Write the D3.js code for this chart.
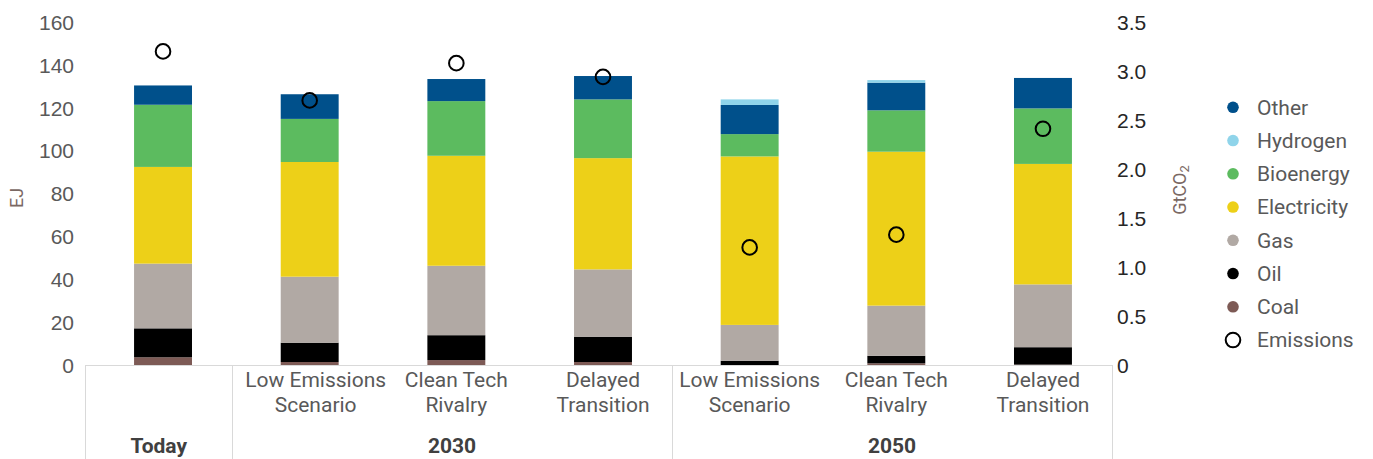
<!DOCTYPE html>
<html><head><meta charset="utf-8">
<script src="https://cdn.jsdelivr.net/npm/d3@7"></script>
<style>
body{margin:0;background:#fff;}
svg{font-family:Roboto, "Liberation Sans", sans-serif;}
</style></head>
<body><svg id="c" width="1373" height="459"></svg>
<script>
const categories = ["Today","Low Emissions|Scenario","Clean Tech|Rivalry","Delayed|Transition","Low Emissions|Scenario","Clean Tech|Rivalry","Delayed|Transition"];
const groups = [{name:"Today",from:0,to:0},{name:"2030",from:1,to:3},{name:"2050",from:4,to:6}];
const seriesNames = ["Coal","Oil","Gas","Electricity","Bioenergy","Other","Hydrogen"];
const coal        = [3.6, 1.4, 2.3, 1.4, 0.0, 0.8, 0.2];
const oil         = [13.5, 9.0, 11.6, 11.8, 2.0, 3.5, 8.1];
const gas         = [30.2, 30.8, 32.4, 31.4, 16.7, 23.4, 29.3];
const electricity = [45.1, 53.5, 51.3, 51.9, 78.6, 71.8, 56.2];
const bioenergy   = [29.0, 20.1, 25.5, 27.4, 10.4, 19.3, 25.9];
const other       = [9.0, 11.5, 10.3, 10.9, 13.6, 12.9, 14.2];
const hydrogen    = [0.0, 0.0, 0.0, 0.0, 2.6, 1.2, 0.0];
const emissions   = [3.20, 2.70, 3.08, 2.94, 1.20, 1.33, 2.41];
const leftTicks = [0,20,40,60,80,100,120,140,160];
const rightTicks = [0,0.5,1.0,1.5,2.0,2.5,3.0,3.5];
const legendOrder = ["Other","Hydrogen","Bioenergy","Electricity","Gas","Oil","Coal"];

const colors = {Coal:"#7d5a55",Oil:"#000000",Gas:"#b1a9a4",Electricity:"#edd018",Bioenergy:"#5cbb5f",Other:"#00508b",Hydrogen:"#8fd4ea"};
const seriesData = {Coal:coal,Oil:oil,Gas:gas,Electricity:electricity,Bioenergy:bioenergy,Other:other,Hydrogen:hydrogen};

const svg = d3.select("#c");
const plotTop = 22, plotBottom = 365;
const FS = "21px";
const x = d3.scaleBand().domain(d3.range(categories.length)).range([89.7,1116.3]).paddingInner(0.605).paddingOuter(0.3025);
const y = d3.scaleLinear().domain([0,160]).range([plotBottom,plotTop]);
const y2 = d3.scaleLinear().domain([0,3.5]).range([plotBottom,plotTop]);
const step = x.step();
const sepOffset = -4.3;
const bandLeft = i => x(i) - x.paddingInner()*step/2 + sepOffset;

const table = categories.map((c,i)=>{const o={i}; seriesNames.forEach(s=>o[s]=seriesData[s][i]); return o;});
const stack = d3.stack().keys(seriesNames)(table);

// bars
svg.append("g").selectAll("g").data(stack).join("g").attr("fill",d=>colors[d.key])
  .selectAll("rect").data(d=>d).join("rect")
  .attr("x",d=>x(d.data.i)).attr("width",x.bandwidth())
  .attr("y",d=>y(d[1])).attr("height",d=>Math.max(0,y(d[0])-y(d[1])));

// axis baseline and separators
const axisCol = "#d9d9d9";
const xLeft = bandLeft(0), xRight = bandLeft(categories.length-1)+step;
svg.append("line").attr("x1",xLeft).attr("x2",xRight).attr("y1",plotBottom+0.5).attr("y2",plotBottom+0.5).attr("stroke",axisCol);
const seps = [0,1,4].map(bandLeft).concat([xRight]);
svg.append("g").selectAll("line").data(seps).join("line")
  .attr("x1",d=>Math.round(d)+0.5).attr("x2",d=>Math.round(d)+0.5).attr("y1",plotBottom).attr("y2",459).attr("stroke",axisCol);

// left axis
const la = svg.append("g").attr("transform",`translate(74,0)`)
  .call(d3.axisLeft(y).tickValues(leftTicks).tickSize(0).tickPadding(0).tickFormat(d3.format("d")));
la.select(".domain").remove();
la.selectAll("text").attr("fill","#595959").style("font-size",FS).attr("dy","0.35em");

// right axis
const ra = svg.append("g").attr("transform",`translate(1117,0)`)
  .call(d3.axisRight(y2).tickValues(rightTicks).tickSize(0).tickPadding(0).tickFormat(d=>d===0?"0":d3.format(".1f")(d)));
ra.select(".domain").remove();
ra.selectAll("text").attr("fill","#262626").style("font-size",FS).attr("dy","0.35em");

// axis titles
svg.append("text").attr("transform","translate(17,198) rotate(-90)").attr("text-anchor","middle").attr("dy","0.35em")
  .attr("fill","#7a6863").style("font-size","18px").text("EJ");
const gt = svg.append("text").attr("transform","translate(1180,190) rotate(-90)").attr("text-anchor","middle").attr("dy","0.35em")
  .attr("fill","#7a6863").style("font-size","18px");
gt.append("tspan").text("GtCO");
gt.append("tspan").style("font-size","13px").attr("dy","3").text("2");

// category labels
const cl = svg.append("g").selectAll("text").data(categories.map((c,i)=>({c,i})).filter(d=>d.i>0)).join("text")
  .attr("text-anchor","middle").attr("fill","#595959").style("font-size",FS);
cl.each(function(d){
  const t=d3.select(this); const parts=d.c.split("|");
  parts.forEach((p,k)=>t.append("tspan").attr("x",x(d.i)+x.bandwidth()/2+ (d.i===1?6:0)).attr("y",387+k*25).text(p));
});

// group labels
svg.append("g").selectAll("text").data(groups).join("text")
  .attr("x",g=>(bandLeft(g.from)+bandLeft(g.to)+step)/2).attr("y",453)
  .attr("text-anchor","middle").attr("fill","#404040").style("font-size",FS).style("font-weight","bold").text(g=>g.name);

// emissions
svg.append("g").selectAll("circle").data(emissions).join("circle")
  .attr("cx",(d,i)=>x(i)+x.bandwidth()/2).attr("cy",d=>y2(d)).attr("r",7.3)
  .attr("fill","none").attr("stroke","#000").attr("stroke-width",2);

// legend
const lg = svg.append("g");
const items = legendOrder.concat(["Emissions"]);
const ly = i => 107.3 + i*33.25;
items.forEach((name,i)=>{
  if(name==="Emissions"){
    lg.append("circle").attr("cx",1233).attr("cy",ly(i)).attr("r",7.3).attr("fill","none").attr("stroke","#000").attr("stroke-width",2);
  } else {
    lg.append("circle").attr("cx",1233).attr("cy",ly(i)).attr("r",5.8).attr("fill",colors[name]);
  }
  lg.append("text").attr("x",1257).attr("y",ly(i)).attr("dy","0.35em").attr("fill","#595959").style("font-size",FS).text(name);
});
</script></body></html>
